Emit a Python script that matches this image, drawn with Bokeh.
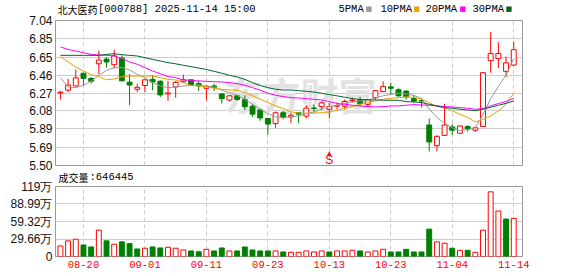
from bokeh.plotting import figure
from bokeh.models import Range1d, FixedTicker, ColumnDataSource, Label, PrintfTickFormatter
from bokeh.layouts import column
from bokeh.embed import file_html
from bokeh.resources import INLINE
from bokeh.core.properties import value

# ---------------- data ----------------
dates = ["08-15", "08-18", "08-19", "08-20", "08-21", "08-22", "08-25", "08-26", "08-27", "08-28",
         "08-29", "09-01", "09-02", "09-03", "09-04", "09-05", "09-08", "09-09", "09-10", "09-11",
         "09-12", "09-15", "09-16", "09-17", "09-18", "09-19", "09-22", "09-23", "09-24", "09-25",
         "09-26", "09-29", "09-30", "10-09", "10-10", "10-13", "10-14", "10-15", "10-16", "10-17",
         "10-20", "10-21", "10-22", "10-23", "10-24", "10-27", "10-28", "10-29", "10-30", "10-31",
         "11-03", "11-04", "11-05", "11-06", "11-07", "11-10", "11-11", "11-12", "11-13", "11-14"]

opens = [6.27, 6.30, 6.345, 6.48, 6.425, 6.58, 6.63, 6.57, 6.64, 6.385,
         6.31, 6.35, 6.415, 6.395, 6.26, 6.335, 6.39, 6.41, 6.37, 6.32,
         6.345, 6.26, 6.195, 6.24, 6.20, 6.13, 6.09, 6.00, 5.945, 6.06,
         6.016, 6.06, 6.025, 6.11, 6.125, 6.097, 6.13, 6.13, 6.19, 6.20,
         6.15, 6.22, 6.285, 6.335, 6.305, 6.29, 6.21, 6.19, 5.93, 5.71,
         5.82, 5.91, 5.843, 5.914, 5.875, 5.914, 6.613, 6.635, 6.50, 6.567]
highs = [6.29, 6.42, 6.52, 6.48, 6.44, 6.72, 6.65, 6.73, 6.67, 6.47,
         6.37, 6.42, 6.457, 6.405, 6.40, 6.397, 6.466, 6.41, 6.40, 6.355,
         6.37, 6.265, 6.25, 6.25, 6.245, 6.15, 6.108, 6.005, 6.073, 6.08,
         6.06, 6.062, 6.14, 6.15, 6.18, 6.165, 6.17, 6.20, 6.22, 6.23,
         6.21, 6.30, 6.395, 6.38, 6.32, 6.30, 6.246, 6.21, 6.00, 5.82,
         6.155, 5.938, 5.925, 5.928, 5.914, 6.49, 6.92, 6.81, 6.656, 6.818]
lows = [6.20, 6.28, 6.34, 6.35, 6.37, 6.47, 6.54, 6.53, 6.39, 6.143,
        6.28, 6.28, 6.30, 6.228, 6.186, 6.22, 6.38, 6.345, 6.29, 6.19,
        6.29, 6.157, 6.18, 6.186, 6.09, 6.015, 5.975, 5.83, 5.90, 5.99,
        5.95, 5.95, 6.00, 6.06, 6.09, 6.00, 6.095, 6.097, 6.17, 6.13,
        6.125, 6.197, 6.285, 6.25, 6.23, 6.20, 6.167, 6.115, 5.65, 5.65,
        5.815, 5.825, 5.836, 5.86, 5.857, 5.91, 6.486, 6.535, 6.44, 6.557]
closes = [6.28, 6.355, 6.43, 6.425, 6.395, 6.62, 6.60, 6.665, 6.40, 6.355,
          6.33, 6.41, 6.387, 6.25, 6.27, 6.383, 6.41, 6.36, 6.345, 6.34,
          6.33, 6.21, 6.24, 6.20, 6.125, 6.045, 6.005, 5.94, 6.06, 6.01,
          6.034, 6.045, 6.11, 6.105, 6.165, 6.125, 6.137, 6.18, 6.195, 6.16,
          6.20, 6.295, 6.338, 6.32, 6.24, 6.23, 6.185, 6.185, 5.75, 5.81,
          5.93, 5.875, 5.92, 5.89, 5.90, 6.486, 6.69, 6.69, 6.59, 6.73]

ma5 = [6.433, 6.334, 6.327, 6.35, 6.397, 6.458, 6.51, 6.54, 6.54, 6.515,
       6.468, 6.433, 6.38, 6.345, 6.327, 6.334, 6.345, 6.35, 6.355, 6.345,
       6.334, 6.30, 6.274, 6.246, 6.203, 6.15, 6.097, 6.05, 6.016, 6.01,
       6.016, 6.027, 6.05, 6.07, 6.10, 6.125, 6.14, 6.157, 6.175, 6.186,
       6.196, 6.217, 6.24, 6.256, 6.267, 6.26, 6.245, 6.21, 6.10, 6.01,
       5.95, 5.90, 5.87, 5.88, 5.90, 6.04, 6.21, 6.34, 6.46, 6.635]
ma10 = [6.656, 6.60, 6.546, 6.504, 6.465, 6.444, 6.41, 6.42, 6.444, 6.45,
        6.45, 6.45, 6.45, 6.433, 6.415, 6.408, 6.38, 6.35, 6.345, 6.338,
        6.32, 6.31, 6.302, 6.30, 6.274, 6.24, 6.203, 6.168, 6.133, 6.105,
        6.07, 6.055, 6.055, 6.055, 6.062, 6.07, 6.087, 6.108, 6.125, 6.15,
        6.168, 6.186, 6.203, 6.214, 6.22, 6.228, 6.224, 6.203, 6.168, 6.125,
        6.115, 6.08, 6.044, 6.01, 5.963, 5.99, 6.027, 6.08, 6.15, 6.267]
ma20 = [6.76, 6.733, 6.716, 6.698, 6.68, 6.673, 6.67, 6.663, 6.635, 6.60,
        6.575, 6.54, 6.504, 6.475, 6.444, 6.433, 6.408, 6.405, 6.398, 6.394,
        6.39, 6.387, 6.38, 6.37, 6.352, 6.327, 6.30, 6.267, 6.246, 6.232,
        6.22, 6.217, 6.21, 6.203, 6.196, 6.178, 6.16, 6.15, 6.14, 6.133,
        6.125, 6.122, 6.125, 6.133, 6.133, 6.14, 6.147, 6.143, 6.14, 6.133,
        6.125, 6.122, 6.115, 6.108, 6.097, 6.104, 6.133, 6.157, 6.18, 6.214]
ma30 = [6.67, 6.67, 6.67, 6.67, 6.67, 6.67, 6.68, 6.687, 6.677, 6.67,
        6.663, 6.645, 6.627, 6.61, 6.592, 6.58, 6.564, 6.55, 6.535, 6.52,
        6.50, 6.48, 6.458, 6.44, 6.415, 6.38, 6.35, 6.327, 6.31, 6.302,
        6.302, 6.295, 6.288, 6.28, 6.267, 6.253, 6.24, 6.225, 6.21, 6.203,
        6.196, 6.196, 6.193, 6.193, 6.193, 6.178, 6.175, 6.168, 6.15, 6.133,
        6.115, 6.108, 6.097, 6.09, 6.083, 6.097, 6.118, 6.14, 6.16, 6.186]

# volume in 万 (10k)
volumes = [17.9, 26.5, 29.3, 19.6, 16.2, 44.7, 26.5, 20.8, 24.8, 21.9,
           12.8, 14.0, 16.2, 14.5, 15.7, 14.0, 11.1, 9.4, 8.0, 12.2,
           9.4, 14.5, 9.4, 9.4, 16.2, 11.1, 9.4, 9.4, 9.4, 7.7,
           7.1, 7.1, 9.4, 7.7, 9.4, 7.7, 9.4, 9.4, 10.5, 9.4,
           7.7, 9.4, 12.2, 7.7, 7.7, 12.2, 7.7, 7.7, 46.4, 24.8,
           22.5, 14.0, 10.5, 10.5, 7.1, 44.7, 109.6, 77.1, 63.5, 64.6445]
vol_up = [1, 1, 1, 0, 0, 1, 0, 1, 0, 0,
          0, 1, 0, 0, 1, 1, 1, 0, 0, 1,
          0, 0, 1, 0, 0, 0, 0, 0, 1, 0,
          1, 1, 1, 1, 1, 0, 1, 1, 1, 0,
          1, 1, 1, 0, 0, 0, 0, 0, 0, 1,
          1, 0, 1, 0, 1, 1, 1, 1, 0, 1]

price_ticks = [5.50, 5.69, 5.89, 6.08, 6.27, 6.46, 6.65, 6.85, 7.04]
vol_ticks = [0, 29.66, 59.32, 88.99, 118.65]
vol_tick_labels = ["0", "29.66万", "59.32万", "88.99万", "119万"]
label_dates = ["08-20", "09-01", "09-11", "09-23", "10-13", "10-23", "11-04", "11-14"]
signal_dates = ["10-13"]
stock_name = "北大医药"
stock_info = "[000788] 2025-11-14 15:00"
last_volume = "646445"
ma_names = ["5PMA", "10PMA", "20PMA", "30PMA"]

# ---------------- style ----------------
W = 578
FL, FR = 55, 522          # frame left / right (px)
RED = "#ff0000"
GREEN = "#008000"
MA_COLORS = ["#999999", "#f0a000", "#ff00ff", "#006633"]
GRID = "#cccccc"
BORDER = "#999999"

x = list(range(len(dates)))
label_idx = [dates.index(d) for d in label_dates]
xr = Range1d(-0.64, len(dates) + 0.14)

up = [c >= o for o, c in zip(opens, closes)]
src = ColumnDataSource(dict(
    x=x, h=highs, l=lows,
    top=[max(o, c) for o, c in zip(opens, closes)],
    bot=[min(o, c) for o, c in zip(opens, closes)],
    col=[RED if u else GREEN for u in up],
    fill=["#ffffff" if u else GREEN for u in up],
))


def text_strip(height, margin_top=0):
    """Transparent strip whose frame spans the panel columns (px coords, y down)."""
    s = figure(width=W, height=height, x_range=Range1d(FL, FR), y_range=Range1d(height, 0),
               output_backend="svg", toolbar_location=None,
               x_axis_type=None, y_axis_type=None,
               min_border_left=FL, min_border_right=W - FR,
               min_border_top=0, min_border_bottom=0,
               margin=(margin_top, 0, 0, 0))
    s.outline_line_color = None
    s.background_fill_color = None
    s.border_fill_color = None
    return s


def txt(fig, xx, yy, t, font, size, color="#000000"):
    fig.add_layout(Label(x=xx, y=yy, text=t, text_font=font, text_font_size=size,
                         text_color=color, text_baseline="middle", text_align="left"))


def base_fig(height, yr, top, bottom, label_size, margin_top):
    p = figure(width=W, height=height, x_range=xr, y_range=yr,
               output_backend="svg", toolbar_location=None,
               min_border_left=FL, min_border_right=W - FR,
               min_border_top=top, min_border_bottom=bottom,
               margin=(margin_top, 0, 0, 0))
    p.outline_line_color = BORDER
    p.outline_line_width = 1
    p.background_fill_color = "#ffffff"
    p.border_fill_color = None
    p.xgrid.ticker = FixedTicker(ticks=label_idx)
    p.xgrid.grid_line_color = GRID
    p.xgrid.grid_line_dash = "4 3"
    p.ygrid.grid_line_color = GRID
    for ax in p.yaxis:
        ax.axis_line_color = None
        ax.major_tick_line_color = None
        ax.minor_tick_line_color = None
        ax.major_tick_out = 0
        ax.major_tick_in = 0
        ax.major_label_standoff = 3
        ax.major_label_text_font = "Liberation Sans"
        ax.major_label_text_font_size = label_size
        ax.major_label_text_color = "#111111"
    return p


# ---------------- header strip (canvas y 0..20) ----------------
h1 = text_strip(20)
txt(h1, 57, 8.5, stock_name, "Noto Sans CJK SC", "10px")
txt(h1, 97.5, 8.5, stock_info, "Liberation Mono", "10.5px")
leg_x = [338, 380, 425, 472]
sq_x = [365, 413, 459, 505]
for name, lx, sx, c in zip(ma_names, leg_x, sq_x, MA_COLORS):
    txt(h1, lx, 8.5, name, "Liberation Mono", "10.5px")
    txt(h1, sx, 8.5, "■", "DejaVu Sans", "7px", c)

# ---------------- price panel (canvas y 0..172, frame 20..165) ----------------
p1 = base_fig(172, Range1d(price_ticks[0], price_ticks[-1]), 20, 7, "12px", -20)
p1.xaxis.visible = False
p1.yaxis.ticker = FixedTicker(ticks=price_ticks)
p1.ygrid.ticker = FixedTicker(ticks=price_ticks)
p1.yaxis.formatter = PrintfTickFormatter(format="%.2f")

wm = Label(x=245, y=72, x_units="screen", y_units="screen", text="东方财富",
           text_font="Noto Sans CJK SC", text_font_size="38px", text_font_style="bold",
           text_color="#e2e2e2", text_align="center", text_baseline="middle", level="underlay")
p1.add_layout(wm)

p1.segment(x0="x", y0="h", x1="x", y1="l", line_color="col", line_width=1, source=src)
p1.vbar(x="x", top="top", bottom="bot", width=0.64, fill_color="fill",
        line_color="col", line_width=1, source=src)

for ma, c in zip([ma5, ma10, ma20, ma30], MA_COLORS):
    p1.line(x, ma, line_color=c, line_width=1)

sig_x = [dates.index(d) for d in signal_dates]
p1.text(x=sig_x, y=[price_ticks[0]] * len(sig_x), text=["S"] * len(sig_x),
        text_color=RED, text_font=value("Liberation Sans"), text_font_size="12px",
        text_align="center", text_baseline="bottom", y_offset=1)
p1.text(x=sig_x, y=[price_ticks[0]] * len(sig_x), text=["▲"] * len(sig_x),
        text_color=RED, text_font=value("DejaVu Sans"), text_font_size="6px",
        text_align="center", text_baseline="bottom", y_offset=-10)

# ---------------- volume header strip (canvas y 166..186) ----------------
h2 = text_strip(20, -6)
txt(h2, 58, 10.5, "成交量", "Noto Sans CJK SC", "10px")
txt(h2, 89, 10.5, ":" + last_volume, "Liberation Mono", "10.5px")

# ---------------- volume panel (canvas y 172..276, frame 186..256) ----------------
p2 = base_fig(104, Range1d(vol_ticks[0], vol_ticks[-1]), 14, 20, "12px", -14)
p2.yaxis.ticker = FixedTicker(ticks=vol_ticks)
p2.ygrid.ticker = FixedTicker(ticks=vol_ticks)
p2.yaxis.major_label_overrides = {t: s for t, s in zip(vol_ticks, vol_tick_labels)}
p2.xaxis.ticker = FixedTicker(ticks=label_idx)
p2.xaxis.major_label_overrides = {i: d for i, d in zip(label_idx, label_dates)}
p2.xaxis.axis_line_color = None
p2.xaxis.major_tick_line_color = None
p2.xaxis.minor_tick_line_color = None
p2.xaxis.major_tick_out = 0
p2.xaxis.major_tick_in = 0
p2.xaxis.major_label_standoff = 4
p2.xaxis.major_label_text_font = "Liberation Mono"
p2.xaxis.major_label_text_font_size = "10.5px"
p2.xaxis.major_label_text_color = RED

vsrc = ColumnDataSource(dict(
    x=x, v=volumes,
    col=[RED if u else GREEN for u in vol_up],
    fill=["#ffffff" if u else GREEN for u in vol_up],
))
p2.vbar(x="x", top="v", bottom=0, width=0.64, fill_color="fill",
        line_color="col", line_width=1, source=vsrc)

layout = column(h1, p1, h2, p2, spacing=0)
open("out.html", "w").write(file_html(layout, INLINE))
